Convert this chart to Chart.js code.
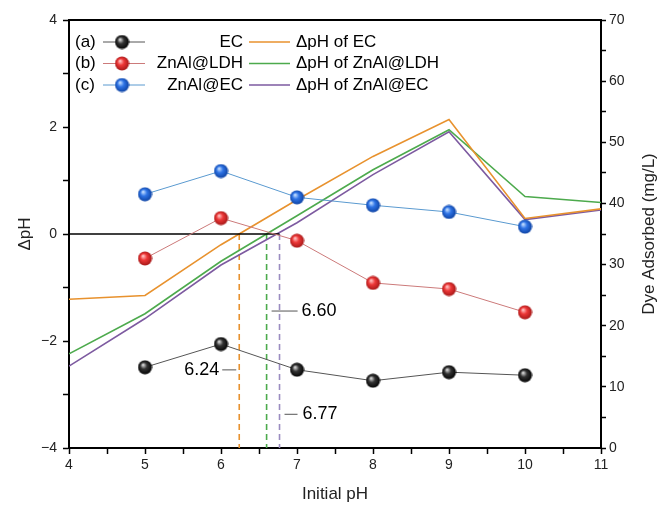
<!DOCTYPE html>
<html>
<head>
<meta charset="utf-8">
<script src="https://cdn.jsdelivr.net/npm/chart.js@4.4.0/dist/chart.umd.min.js"></script>
<style>
  body { margin: 0; background: #fff; }
  #wrap { width: 659px; height: 508px; }
</style>
</head>
<body>
<div id="wrap"><canvas id="grafica" width="659" height="508"></canvas></div>
<script>
// pH lines (left axis)
const valoresPH = [4, 5, 6, 7, 8, 9, 10, 11];
const dpHEC = [-1.22, -1.15, -0.20, 0.64, 1.45, 2.14, 0.29, 0.47];
const dpHLDH = [-2.24, -1.49, -0.51, 0.34, 1.20, 1.95, 0.70, 0.59];
const dpHZnAlEC = [-2.47, -1.58, -0.58, 0.21, 1.11, 1.91, 0.27, 0.45];

// dye adsorbed (right axis)
const valoresDye = [5, 6, 7, 8, 9, 10];
const dyeEC = [13.2, 17.0, 12.8, 11.0, 12.4, 11.9];
const dyeLDH = [31.0, 37.6, 33.9, 27.0, 26.0, 22.2];
const dyeZnAlEC = [41.5, 45.3, 41.0, 39.7, 38.6, 36.2];

// points of zero charge
const puntosCero = [6.24, 6.60, 6.77];
const etiquetasCero = ['6.24', '6.60', '6.77'];

const etiquetasFila = ['(a)', '(b)', '(c)'];
const nombres = ['EC', 'ZnAl@LDH', 'ZnAl@EC'];
const nombresPH = ['\u0394pH of EC', '\u0394pH of ZnAl@LDH', '\u0394pH of ZnAl@EC'];
const tituloDerecho = 'Dye Adsorbed (mg/L)';

const naranja = '#E8922E';
const verde = '#4DAA4D';
const morado = '#7D5AA0';
const fuente = '"Liberation Sans", Arial, sans-serif';

function bola(claro, medio, oscuro) {
    const c = document.createElement('canvas');
    c.width = 15; c.height = 15;
    const g = c.getContext('2d');
    const grad = g.createRadialGradient(5.5, 5, 0.5, 7.5, 7.5, 7.5);
    grad.addColorStop(0, claro);
    grad.addColorStop(0.4, medio);
    grad.addColorStop(1, oscuro);
    g.fillStyle = grad;
    g.beginPath();
    g.arc(7.5, 7.5, 7, 0, Math.PI * 2);
    g.fill();
    return c;
}
const bolaNegra = bola('#d8d8d8', '#333333', '#000000');
const bolaRoja = bola('#ffc0c0', '#ee3838', '#a01515');
const bolaAzul = bola('#c0dcff', '#2f74e6', '#0b3f9e');

const pares = (xs, ys) => xs.map((x, i) => ({ x: x, y: ys[i] }));

function lineaPH(label, datos, color) {
    return { label: label, data: pares(valoresPH, datos), yAxisID: 'y', borderColor: color,
             borderWidth: 1.6, pointRadius: 0, tension: 0, order: 2 };
}
function serieDye(label, datos, color, img) {
    return { label: label, data: pares(valoresDye, datos), yAxisID: 'y1', borderColor: color,
             borderWidth: 1, pointStyle: img, pointRadius: 7, order: 0 };
}
function discontinua(x, color) {
    return { label: 'pzc', data: [{ x: x, y: 0 }, { x: x, y: -4 }], yAxisID: 'y', borderColor: color,
             borderWidth: 1.6, borderDash: [6, 4], pointRadius: 0, order: 3 };
}

const coloresDisc = [naranja, verde, '#9A8CC0'];
const bolas = [bolaNegra, bolaRoja, bolaAzul];
const coloresSerie = ['#555555', '#CC7A7A', '#5A9AD0'];
const coloresPH = [naranja, verde, morado];

const extras = {
    id: 'extras',
    afterDraw(chart) {
        const ctx = chart.ctx;
        const a = chart.chartArea;
        const sx = chart.scales.x, sy = chart.scales.y;
        ctx.save();
        // top frame line
        ctx.strokeStyle = '#000';
        ctx.lineWidth = 2;
        ctx.beginPath();
        ctx.moveTo(a.left - 1, a.top);
        ctx.lineTo(a.right + 1, a.top);
        ctx.stroke();

        // right axis title, reading upwards like the left one
        ctx.save();
        ctx.translate(649, (a.top + a.bottom) / 2);
        ctx.rotate(-Math.PI / 2);
        ctx.font = '17px ' + fuente;
        ctx.fillStyle = '#222';
        ctx.textAlign = 'center';
        ctx.textBaseline = 'middle';
        ctx.fillText(tituloDerecho, 0, 0);
        ctx.restore();

        // legend
        ctx.font = '17px ' + fuente;
        ctx.textBaseline = 'middle';
        for (let i = 0; i < 3; i++) {
            const y = 42 + i * 21.5;
            ctx.fillStyle = '#000';
            ctx.textAlign = 'left';
            ctx.fillText(etiquetasFila[i], 75, y);
            ctx.strokeStyle = coloresSerie[i];
            ctx.lineWidth = 1;
            ctx.beginPath(); ctx.moveTo(103, y); ctx.lineTo(145, y); ctx.stroke();
            ctx.drawImage(bolas[i], 122 - 7.5, y - 7.5);
            ctx.textAlign = 'right';
            ctx.fillText(nombres[i], 243, y);
            ctx.strokeStyle = coloresPH[i];
            ctx.lineWidth = 1.6;
            ctx.beginPath(); ctx.moveTo(249, y); ctx.lineTo(290, y); ctx.stroke();
            ctx.textAlign = 'left';
            ctx.fillText(nombresPH[i], 296, y);
        }

        // zero point labels
        ctx.font = '18px ' + fuente;
        ctx.strokeStyle = '#555';
        ctx.lineWidth = 1;
        const px = puntosCero.map(v => sx.getPixelForValue(v));
        let y = sy.getPixelForValue(-2.54);
        ctx.beginPath(); ctx.moveTo(px[0] - 17, y); ctx.lineTo(px[0] - 3, y); ctx.stroke();
        ctx.textAlign = 'right';
        ctx.fillText(etiquetasCero[0], px[0] - 20, y);
        y = sy.getPixelForValue(-1.44);
        ctx.beginPath(); ctx.moveTo(px[1] + 5, y); ctx.lineTo(px[1] + 31, y); ctx.stroke();
        ctx.textAlign = 'left';
        ctx.fillText(etiquetasCero[1], px[1] + 35, y);
        y = sy.getPixelForValue(-3.37);
        ctx.beginPath(); ctx.moveTo(px[2] + 5, y); ctx.lineTo(px[2] + 18, y); ctx.stroke();
        ctx.fillText(etiquetasCero[2], px[2] + 23, y);
        ctx.restore();
    }
};

const tickFont = { family: fuente, size: 14 };
const titleFont = { family: fuente, size: 17 };
const menos = v => (v < 0 ? '\u2212' + Math.abs(v) : '' + v);

const grafica = new Chart(document.getElementById('grafica'), {
    type: 'line',
    data: {
        datasets: [
            serieDye(nombres[0], dyeEC, coloresSerie[0], bolaNegra),
            serieDye(nombres[1], dyeLDH, coloresSerie[1], bolaRoja),
            serieDye(nombres[2], dyeZnAlEC, coloresSerie[2], bolaAzul),
            lineaPH(nombresPH[0], dpHEC, naranja),
            lineaPH(nombresPH[1], dpHLDH, verde),
            lineaPH(nombresPH[2], dpHZnAlEC, morado),
            discontinua(puntosCero[0], coloresDisc[0]),
            discontinua(puntosCero[1], coloresDisc[1]),
            discontinua(puntosCero[2], coloresDisc[2]),
            { label: 'cero', data: [{ x: 4, y: 0 }, { x: puntosCero[2], y: 0 }], yAxisID: 'y',
              borderColor: '#000', borderWidth: 1.4, pointRadius: 0, order: 1 }
        ]
    },
    options: {
        responsive: false,
        animation: false,
        layout: { padding: { top: 20, left: 0, right: 0, bottom: 0 } },
        plugins: { legend: { display: false }, tooltip: { enabled: false } },
        scales: {
            x: {
                type: 'linear', min: 4, max: 11,
                ticks: { stepSize: 0.5, autoSkip: false, maxRotation: 0, padding: 3, color: '#222', font: tickFont,
                         callback: v => (Number.isInteger(v) ? v : '') },
                grid: { drawOnChartArea: false, tickLength: 6, color: '#000', tickWidth: 1.5 },
                border: { color: '#000', width: 2 },
                title: { display: true, text: 'Initial pH', color: '#222', font: titleFont, padding: { top: 0, bottom: 3 } },
                afterFit: s => { s.height = 60; }
            },
            y: {
                position: 'left', min: -4, max: 4,
                ticks: { stepSize: 1, autoSkip: false, padding: 6, color: '#222', font: tickFont,
                         callback: v => (v % 2 === 0 ? menos(v) : '') },
                grid: { drawOnChartArea: false, tickLength: 6, color: '#000', tickWidth: 1.5 },
                border: { color: '#000', width: 2 },
                title: { display: true, text: '\u0394pH', color: '#222', font: titleFont, padding: { top: 15, bottom: 0 } },
                afterFit: s => { s.width = 69; }
            },
            y1: {
                position: 'right', min: 0, max: 70,
                ticks: { stepSize: 5, autoSkip: false, padding: 3, color: '#222', font: tickFont,
                         callback: v => (v % 10 === 0 ? v : '') },
                grid: { drawOnChartArea: false, tickLength: 5, color: '#000', tickWidth: 1.5 },
                border: { color: '#000', width: 2 },
                afterFit: s => { s.width = 58; }
            }
        }
    },
    plugins: [extras]
});
</script>
</body>
</html>
